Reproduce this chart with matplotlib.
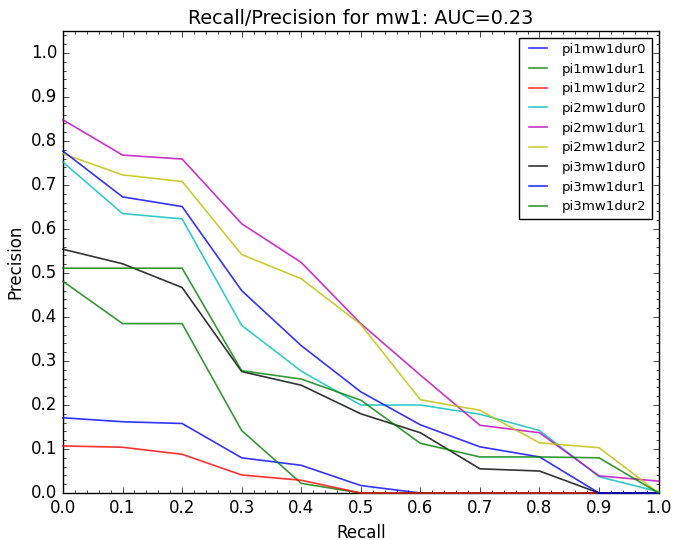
import matplotlib
matplotlib.use('Agg')
import matplotlib.pyplot as plt
from matplotlib.ticker import AutoMinorLocator

plt.style.use('classic')

recall = [0.0, 0.1, 0.2, 0.3, 0.4, 0.5, 0.6, 0.7, 0.8, 0.9, 1.0]

pi1mw1dur0 = [0.171, 0.162, 0.158, 0.080, 0.063, 0.017, 0.0, 0.0, 0.0, 0.0, 0.0]
pi1mw1dur1 = [0.481, 0.385, 0.385, 0.142, 0.022, 0.0, 0.0, 0.0, 0.0, 0.0, 0.0]
pi1mw1dur2 = [0.107, 0.104, 0.088, 0.041, 0.029, 0.0, 0.0, 0.0, 0.0, 0.0, 0.0]
pi2mw1dur0 = [0.752, 0.635, 0.623, 0.381, 0.277, 0.200, 0.200, 0.179, 0.142, 0.037, 0.003]
pi2mw1dur1 = [0.848, 0.768, 0.759, 0.612, 0.524, 0.385, 0.268, 0.154, 0.137, 0.039, 0.027]
pi2mw1dur2 = [0.771, 0.723, 0.708, 0.542, 0.487, 0.383, 0.212, 0.188, 0.114, 0.103, 0.0]
pi3mw1dur0 = [0.554, 0.521, 0.467, 0.276, 0.245, 0.180, 0.137, 0.055, 0.050, 0.0, 0.0]
pi3mw1dur1 = [0.777, 0.673, 0.651, 0.460, 0.335, 0.230, 0.155, 0.105, 0.082, 0.0, 0.0]
pi3mw1dur2 = [0.511, 0.511, 0.511, 0.278, 0.259, 0.211, 0.113, 0.082, 0.082, 0.080, 0.0]

series = {
    'pi1mw1dur0': pi1mw1dur0,
    'pi1mw1dur1': pi1mw1dur1,
    'pi1mw1dur2': pi1mw1dur2,
    'pi2mw1dur0': pi2mw1dur0,
    'pi2mw1dur1': pi2mw1dur1,
    'pi2mw1dur2': pi2mw1dur2,
    'pi3mw1dur0': pi3mw1dur0,
    'pi3mw1dur1': pi3mw1dur1,
    'pi3mw1dur2': pi3mw1dur2,
}
colores = ['b', 'g', 'r', 'c', 'm', 'y', 'k', 'b', 'g']

fig = plt.figure(figsize=(6.73, 5.4), dpi=100)
fig.patch.set_facecolor('white')
ax = fig.add_axes([0.0936, 0.087, 0.885, 0.8556])

for (nombre, valores), c in zip(series.items(), colores):
    ax.plot(recall, valores, color=c, lw=1.2, alpha=0.8, label=nombre,
            clip_on=False, zorder=3)

ax.set_xlim(0, 1.0)
ax.set_ylim(0, 1.05)
ax.set_xticks([i / 10 for i in range(11)])
ax.set_yticks([i / 10 for i in range(11)])
ax.xaxis.set_minor_locator(AutoMinorLocator(5))
ax.yaxis.set_minor_locator(AutoMinorLocator(5))
ax.tick_params(labelsize=12)
ax.set_xlabel('Recall', fontsize=12)
ax.set_ylabel('Precision', fontsize=12)
ax.set_title('Recall/Precision for mw1: AUC=0.23', fontsize=13.8)
ax.legend(loc='upper right', fontsize=9.6)

fig.savefig('out.png', dpi=100, facecolor='white')
